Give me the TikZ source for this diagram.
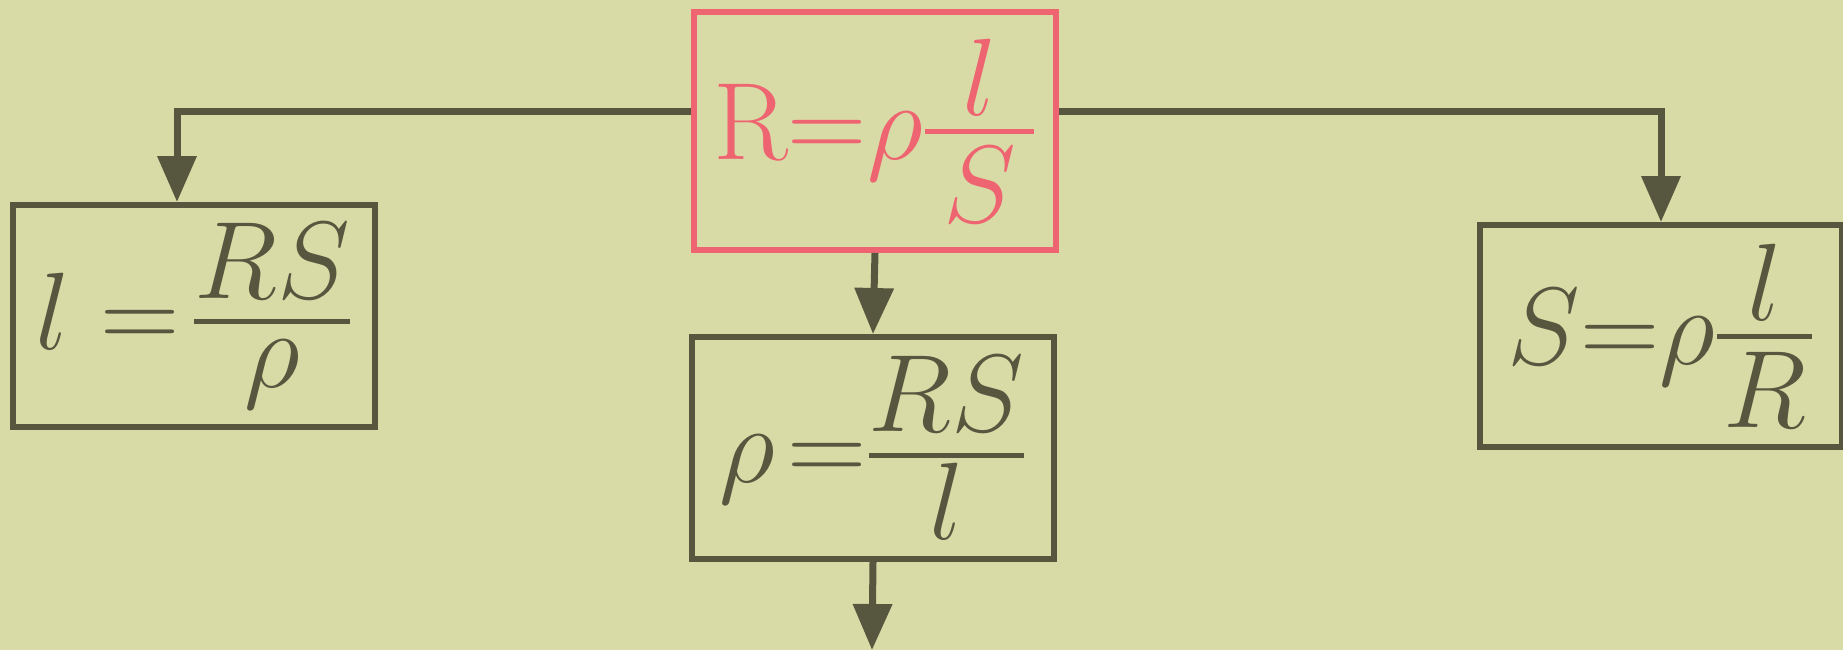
\RequirePackage{fix-cm}
\documentclass[tikz,border=0pt]{standalone}
\usepackage{amsmath}
\usepackage{tikz}
\usetikzlibrary{arrows.meta, positioning, calc}
\definecolor{paper}{HTML}{D9DBA6}
\definecolor{ink}{HTML}{57563F}
\definecolor{formred}{HTML}{EE6470}
\newcommand{\eqfrac}[2]{\genfrac{}{}{2.5pt}{1}%
  {\raisebox{0pt}[\height][\dimexpr\depth+8pt]{$\displaystyle #1$}}%
  {\raisebox{0pt}[\dimexpr\height+4pt][\depth]{$\displaystyle #2$}}}

\begin{document}
\begin{tikzpicture}[
  x=0.5pt, y=-0.5pt,
  eqbox/.style={rectangle, draw=ink, line width=3pt, minimum width=181pt, minimum height=111pt, inner sep=0pt, align=center, text=ink, font=\fontsize{55}{60}\selectfont},
  mainbox/.style={eqbox, draw=formred, text=formred, minimum height=119pt},
  arrow/.style={-{Triangle[length=23pt, width=19pt]}, line width=3.5pt, color=ink},
]
  \fill[paper] (0,0) rectangle (1843,650);
  \useasboundingbox (0,0) rectangle (1843,650);

  \node[mainbox] (ohm) at (875,131) {$\mathrm{R}\mkern-5mu=\mkern-5mu\rho\eqfrac{\mkern3mu l\mkern3mu}{\mkern3mu S\mkern3mu}$};
  \node[eqbox] (length) at (194,316) {$l=\mkern-3mu\eqfrac{RS}{\rho}$};
  \node[eqbox] (resist) at (873,448) {$\rho\mkern-3mu=\mkern-5mu\eqfrac{RS}{l}$};
  \node[eqbox] (area) at (1661,336) {$S\mkern-5mu=\mkern-5mu\rho\eqfrac{l}{\mkern1mu R\mkern1mu}$};

  \coordinate (next) at (872,650);

  \draw[arrow] ($(ohm.west)+(0,-20)$) -| ($(length.north)+(-17,0)$);
  \draw[arrow] ($(ohm.east)+(0,-20)$) -| (area.north);
  \draw[arrow] (ohm.south) -- (resist.north);
  \draw[arrow] (resist.south) -- (next);
\end{tikzpicture}
\end{document}
